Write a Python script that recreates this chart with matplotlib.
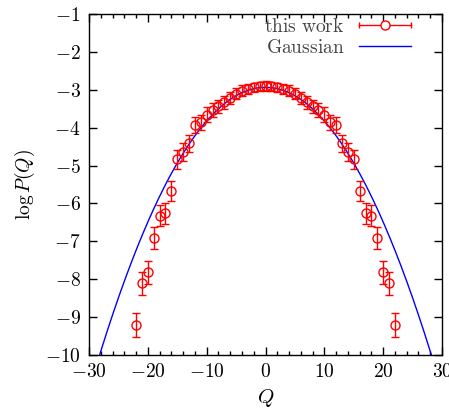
import numpy as np
import matplotlib
matplotlib.use("Agg")
import matplotlib.pyplot as plt
from matplotlib.ticker import MultipleLocator, FixedLocator, FixedFormatter
from matplotlib.legend_handler import HandlerBase
from matplotlib.lines import Line2D

plt.rcParams['mathtext.fontset'] = 'cm'
plt.rcParams['font.family'] = ['DejaVu Serif']

# data (symmetric about Q=0)
Q_half = [0, 1, 2, 3, 4, 5, 6, 7, 8, 9, 10, 11, 12, 13, 14, 15, 16, 17, 18, 19, 20, 21, 22]
logP_half = [-2.90, -2.91, -2.93, -2.97, -3.02, -3.10, -3.22, -3.33, -3.44, -3.54, -3.66,
             -3.86, -3.92, -4.41, -4.64, -4.83, -5.68, -6.26, -6.32, -6.90, -7.82, -8.11, -9.21]
err_half = [0.12, 0.12, 0.12, 0.13, 0.14, 0.15, 0.16, 0.17, 0.18, 0.19, 0.20,
            0.20, 0.21, 0.22, 0.23, 0.25, 0.26, 0.27, 0.28, 0.29, 0.30, 0.31, 0.32]
sigma = 7.5  # Gaussian width

Q = np.array([-q for q in Q_half[:0:-1]] + Q_half)
logP = np.array(logP_half[:0:-1] + logP_half)
err = np.array(err_half[:0:-1] + err_half)

xticks = [-30, -20, -10, 0, 10, 20, 30]
xticklabels = ['$-30$', '$-20$', '$-10$', '$0$', '$10$', '$20$', '$30$']
yticks = [-10, -9, -8, -7, -6, -5, -4, -3, -2, -1]
yticklabels = ['$-10$', '$-9$', '$-8$', '$-7$', '$-6$', '$-5$', '$-4$', '$-3$', '$-2$', '$-1$']


class ErrSampleHandler(HandlerBase):
    def create_artists(self, legend, orig_handle, xdescent, ydescent, width, height, fontsize, trans):
        y = height / 2 - ydescent
        x0, x1 = -xdescent, -xdescent + width
        line = Line2D([x0, x1], [y, y], color='#ff0000', lw=1.0, transform=trans)
        caps = Line2D([x0, x1], [y, y], ls='none', marker='|', ms=5, mew=1.0,
                      color='#ff0000', transform=trans)
        circ = Line2D([(x0 + x1) / 2], [y], ls='none', marker='o', ms=6.5, mew=1.0,
                      mfc='white', mec='#ff0000', transform=trans)
        return [line, caps, circ]


fig = plt.figure(figsize=(4.49, 4.17), dpi=100)
ax = fig.add_axes([89/449, 1-355/417, (442-89)/449, (355-14)/417])

qq = np.linspace(-30, 30, 601)
gauss = -0.5*np.log(2*np.pi*sigma**2) - qq**2/(2*sigma**2)

eb = ax.errorbar(Q, logP, yerr=err, fmt='o', mfc='none', mec='#ff0000', ecolor='#ff0000',
                 ms=6.5, mew=1.0, elinewidth=1.0, capsize=3, capthick=1.0, zorder=3)
gl, = ax.plot(qq, gauss, color='#0000ff', lw=1.0, zorder=2)

ax.set_xlim(-30, 30)
ax.set_ylim(-10, -1)
ax.xaxis.set_major_locator(FixedLocator(xticks))
ax.xaxis.set_major_formatter(FixedFormatter(xticklabels))
ax.xaxis.set_minor_locator(MultipleLocator(2))
ax.yaxis.set_major_locator(FixedLocator(yticks))
ax.yaxis.set_major_formatter(FixedFormatter(yticklabels))
ax.tick_params(which='both', direction='in', top=True, right=True, labelsize=14, pad=6)
ax.tick_params(which='major', length=6, width=1)
ax.tick_params(which='minor', length=3, width=1)
for s in ax.spines.values():
    s.set_linewidth(1.0)

ax.set_xlabel('$Q$', fontsize=15, labelpad=4)
ax.set_ylabel(r'$\log P(Q)$', fontsize=14, labelpad=6)

legend_handles = [eb, gl]
legend_labels = [r'$\mathrm{this\ work}$', r'$\mathrm{Gaussian}$']
leg = ax.legend(legend_handles, legend_labels, loc='upper right', frameon=False,
                markerfirst=False, fontsize=14, handlelength=2.7, borderaxespad=0.0,
                labelspacing=0.15, handletextpad=0.75, bbox_to_anchor=(0.935, 1.012),
                handler_map={type(eb): ErrSampleHandler()})
for t in leg.get_texts():
    t.set_color('#444444')

fig.savefig('out.png', dpi=100)
